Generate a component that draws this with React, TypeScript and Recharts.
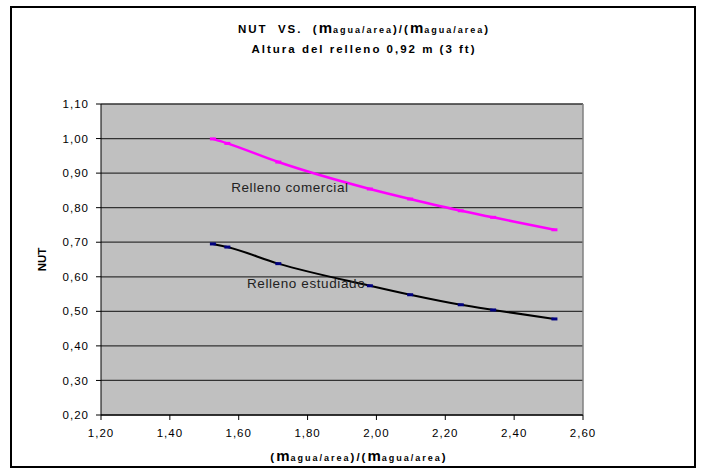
import React from "react";
import {
  LineChart,
  Line,
  XAxis,
  YAxis,
  CartesianGrid,
  ReferenceLine,
  ReferenceDot,
  Label,
} from "recharts";

const xValues = [1.525, 1.567, 1.715, 1.981, 2.098, 2.245, 2.339, 2.517];
const comercial = [0.999, 0.986, 0.932, 0.854, 0.825, 0.791, 0.772, 0.736];
const estudiado = [0.695, 0.686, 0.638, 0.574, 0.548, 0.519, 0.504, 0.478];
const xTicks = [1.2, 1.4, 1.6, 1.8, 2.0, 2.2, 2.4, 2.6];
const yTicks = [0.2, 0.3, 0.4, 0.5, 0.6, 0.7, 0.8, 0.9, 1.0, 1.1];

const data = xValues.map((x, i) => ({ x, comercial: comercial[i], estudiado: estudiado[i] }));

const FONT = "'Liberation Sans', Arial, Helvetica, sans-serif";
const fmt = (v: number) => v.toFixed(2).replace(".", ",");

const Dash = (color: string) => (props: any) => {
  const { cx, cy, index } = props;
  if (cx == null || cy == null) return <g key={index} />;
  return <rect key={index} x={cx - 3} y={cy - 1.5} width={6} height={3} fill={color} />;
};

const Sub = () => (
  <span style={{ fontSize: 9, letterSpacing: 2 }}>agua/area</span>
);
const M = () => <span style={{ fontSize: 15, letterSpacing: 1 }}>m</span>;

export default function App() {
  return (
    <div style={{ position: "absolute", left: 0, top: 0, width: 704, height: 475, background: "#fff", fontFamily: FONT }}>
      <div
        style={{
          position: "absolute",
          left: 10,
          top: 6,
          width: 686,
          height: 462,
          border: "2px solid #000",
          boxSizing: "border-box",
        }}
      />
      <div
        style={{
          position: "absolute",
          left: 0,
          width: 728,
          top: 18,
          textAlign: "center",
          fontWeight: "bold",
          fontSize: 11.5,
          letterSpacing: 2,
          lineHeight: "19px",
          color: "#000",
          whiteSpace: "nowrap",
        }}
      >
        <div>
          NUT&nbsp; VS.&nbsp; (<M />
          <Sub />)/(<M />
          <Sub />)
        </div>
        <div>Altura del relleno 0,92 m&nbsp;(3 ft)</div>
      </div>
      <div
        style={{
          position: "absolute",
          left: 0,
          width: 718,
          top: 447,
          textAlign: "center",
          fontWeight: "bold",
          fontSize: 11.5,
          letterSpacing: 2,
          lineHeight: "18px",
          color: "#000",
          whiteSpace: "nowrap",
        }}
      >
        (<M />
        <Sub />)/(<M />
        <Sub />)
      </div>
      <div style={{ position: "absolute", left: 0, top: 0 }}>
        <LineChart
          width={704}
          height={475}
          data={data}
          margin={{ top: 104, right: 121, bottom: 30, left: 41 }}
        >
          <CartesianGrid
            vertical={false}
            horizontal={true}
            stroke="#333"
            strokeWidth={1.3}
            fill="#C0C0C0"
            fillOpacity={1}
          />
          <XAxis
            dataKey="x"
            type="number"
            domain={[1.2, 2.6]}
            ticks={xTicks}
            tickFormatter={fmt}
            height={30}
            stroke="#000"
            tickSize={5}
            tickMargin={9}
            tick={{ fill: "#000", fontSize: 11.5, fontFamily: FONT, letterSpacing: 1 }}
            allowDataOverflow
          />
          <YAxis
            type="number"
            domain={[0.2, 1.1]}
            ticks={yTicks}
            tickFormatter={fmt}
            width={60}
            stroke="#000"
            tickSize={5}
            tickMargin={7}
            tick={{ fill: "#000", fontSize: 11.5, fontFamily: FONT, letterSpacing: 1 }}
            allowDataOverflow
          >
            <Label
              value="NUT"
              angle={-90}
              position="insideLeft"
              offset={1}
              style={{ fontWeight: "bold", fontSize: 11.5, fill: "#000", fontFamily: FONT, textAnchor: "middle" }}
            />
          </YAxis>
          <ReferenceLine x={2.6} stroke="#808080" strokeWidth={1.5} />
          <Line
            type="monotone"
            dataKey="comercial"
            stroke="#FF00FF"
            strokeWidth={2.5}
            dot={Dash("#FF00FF")}
            isAnimationActive={false}
          />
          <Line
            type="monotone"
            dataKey="estudiado"
            stroke="#000"
            strokeWidth={2}
            dot={Dash("#000080")}
            isAnimationActive={false}
          />
          <ReferenceDot
            x={1.578}
            y={0.858}
            r={0}
            fill="none"
            stroke="none"
            label={{ value: "Relleno comercial", position: "right", offset: 0, fill: "#222", fontSize: 13.5, fontFamily: FONT, letterSpacing: 0.6 }}
          />
          <ReferenceDot
            x={1.624}
            y={0.582}
            r={0}
            fill="none"
            stroke="none"
            label={{ value: "Relleno estudiado", position: "right", offset: 0, fill: "#222", fontSize: 13.5, fontFamily: FONT, letterSpacing: 0.6 }}
          />
        </LineChart>
      </div>
    </div>
  );
}
